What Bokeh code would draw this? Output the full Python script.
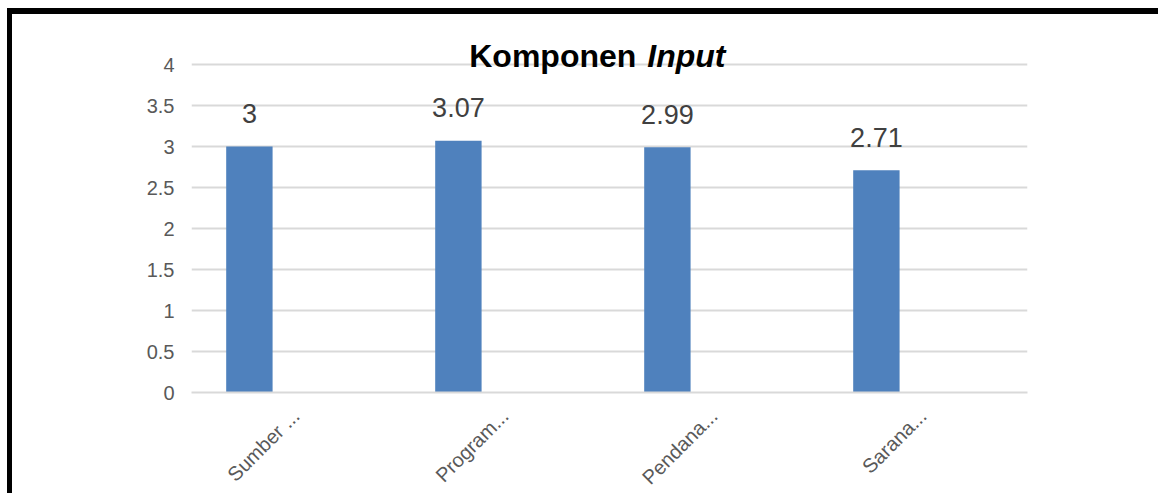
import math
from bokeh.plotting import figure
from bokeh.layouts import column
from bokeh.models import ColumnDataSource, FactorRange, Range1d, FixedTicker, Label
from bokeh.transform import dodge
from bokeh.core.properties import value
from bokeh.embed import file_html
from bokeh.resources import INLINE

categories = ["Sumber ...", "Program...", "Pendana...", "Sarana..."]
values = [3.00, 3.07, 2.99, 2.71]
value_labels = ["3", "3.07", "2.99", "2.71"]
y_ticks = [0, 0.5, 1, 1.5, 2, 2.5, 3, 3.5, 4]

src = ColumnDataSource(dict(cat=categories, val=values, lab=value_labels))

FONT = "Liberation Sans"
GRAY = "#595959"

p = figure(
    x_range=FactorRange(*categories, range_padding=0),
    y_range=Range1d(0, 4.5),
    frame_width=831, frame_height=363,
    min_border_left=179, min_border_right=136,
    min_border_top=9, min_border_bottom=99,
    output_backend="svg", toolbar_location=None,
    background_fill_color="white", border_fill_color="white",
)
p.styles = {"border-left": "5px solid black", "border-top": "6px solid black"}
p.outline_line_color = None

p.vbar(x=dodge("cat", -0.223, range=p.x_range), top="val", width=0.222,
       source=src, fill_color="#4F81BD", line_color=None)

p.text(x=dodge("cat", -0.223, range=p.x_range), y="val", text="lab", source=src,
       y_offset=-33, text_align="center", text_baseline="alphabetic",
       text_font=value(FONT), text_font_size="27px", text_color="#404040")

split = 2.157
p.add_layout(Label(x=split, y=4.10, text="Komponen", x_offset=-6,
                   text_align="right", text_baseline="alphabetic",
                   text_font=FONT, text_font_size="32px", text_font_style="bold",
                   text_color="black"))
p.add_layout(Label(x=split, y=4.10, text="Input", x_offset=5,
                   text_align="left", text_baseline="alphabetic",
                   text_font=FONT, text_font_size="32px", text_font_style="bold italic",
                   text_color="black"))

p.xgrid.grid_line_color = None
p.ygrid.ticker = FixedTicker(ticks=y_ticks)
p.ygrid.grid_line_color = "#d9d9d9"
p.ygrid.grid_line_width = 2

p.yaxis.ticker = FixedTicker(ticks=y_ticks)
p.yaxis.axis_line_color = None
p.yaxis.major_tick_line_color = None
p.yaxis.minor_tick_line_color = None
p.yaxis.major_label_standoff = 11
p.yaxis.major_label_text_font = FONT
p.yaxis.major_label_text_font_size = "20px"
p.yaxis.major_label_text_color = GRAY

p.xaxis.axis_line_color = "#d9d9d9"
p.xaxis.axis_line_width = 2
p.xaxis.major_tick_line_color = None
p.xaxis.minor_tick_line_color = None
p.xaxis.major_label_orientation = math.pi / 4
p.xaxis.major_label_standoff = 14
p.xaxis.major_label_text_font = FONT
p.xaxis.major_label_text_font_size = "20px"
p.xaxis.major_label_text_color = GRAY

root = column(p, styles={"padding-left": "7px", "padding-top": "8px",
                         "background-color": "white"})

open("out.html", "w").write(file_html(root, INLINE))
